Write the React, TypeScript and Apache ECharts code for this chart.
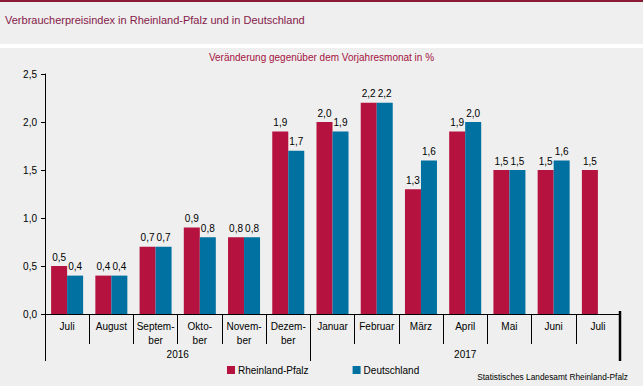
import React, { useEffect, useRef } from "react";
import * as echarts from "echarts";

const months = ["Juli", "August", "Septem-\nber", "Okto-\nber", "Novem-\nber", "Dezem-\nber", "Januar", "Februar", "März", "April", "Mai", "Juni", "Juli"];
const years = ["2016", "2017"];
const yearBounds = [0, 6, 13];
const yearCenters = [3, 9.5];
const rlp = [0.5, 0.4, 0.7, 0.9, 0.8, 1.9, 2.0, 2.2, 1.3, 1.9, 1.5, 1.5, 1.5];
const de: (number | null)[] = [0.4, 0.4, 0.7, 0.8, 0.8, 1.7, 1.9, 2.2, 1.6, 2.0, 1.5, 1.6, null];

const RED = "#B5123F";
const BLUE = "#0071A1";
const FONT = "'Liberation Sans', Arial, sans-serif";
const fmt = (v: number) => v.toFixed(1).replace(".", ",");

export default function App() {
  const ref = useRef<HTMLDivElement>(null);
  useEffect(() => {
    document.body.style.margin = "0";
    const chart = echarts.init(ref.current!, null, { renderer: "svg" });
    const graphics: any[] = [
      { type: "rect", left: 0, top: 0, shape: { width: 643, height: 2 }, style: { fill: "#8A1A35" } },
      { type: "rect", left: 0, top: 44, shape: { width: 643, height: 4 }, style: { fill: "#FFFFFF" } },
      { type: "text", left: 5, top: 14, style: { text: "Verbraucherpreisindex in Rheinland-Pfalz und in Deutschland", fontSize: 11, fill: "#86204A", fontFamily: FONT } },
      { type: "text", left: "center", top: 52, style: { text: "Veränderung gegenüber dem Vorjahresmonat in %", fontSize: 10, fill: "#A5123F", fontFamily: FONT } },
      { type: "text", right: 15, top: 373, style: { text: "Statistisches Landesamt Rheinland-Pfalz", fontSize: 8.3, fill: "#000", fontFamily: FONT } },
    ];
    const option: any = {
      animation: false,
      backgroundColor: "#EEEFEE",
      textStyle: { fontFamily: FONT },
      grid: { left: 45, right: 23, top: 74, bottom: 72, containLabel: false },
      graphic: graphics,
      legend: {
        left: 227,
        top: 365,
        padding: 0,
        itemWidth: 8,
        itemHeight: 8,
        itemGap: 44,
        icon: "rect",
        textStyle: { fontSize: 10, color: "#000", fontFamily: FONT, padding: [0, 0, 0, -2] },
        data: ["Rheinland-Pfalz", "Deutschland"],
      },
      xAxis: [
        {
          type: "category",
          data: months,
          axisLine: { lineStyle: { color: "#000", width: 1 } },
          axisTick: { show: true, interval: 0, length: 30, lineStyle: { color: "#000" } },
          axisLabel: { interval: 0, margin: 5, fontSize: 10, lineHeight: 14, color: "#000", fontFamily: FONT },
          splitLine: { show: false },
        },
        {
          type: "value",
          min: 0,
          max: 13,
          position: "bottom",
          axisLine: { show: false },
          axisTick: { show: true, length: 47, customValues: yearBounds, lineStyle: { color: "#000" } },
          axisLabel: {
            customValues: yearCenters,
            margin: 35,
            fontSize: 10,
            color: "#000",
            fontFamily: FONT,
            formatter: (v: number) => years[yearCenters.indexOf(v)] ?? "",
          },
          splitLine: { show: false },
        },
      ],
      yAxis: {
        type: "value",
        min: 0,
        max: 2.5,
        interval: 0.5,
        axisLine: { show: true, lineStyle: { color: "#000" } },
        axisTick: { show: true, length: 4, lineStyle: { color: "#000" } },
        axisLabel: { formatter: (v: number) => fmt(v), fontSize: 10, color: "#000", margin: 8, fontFamily: FONT },
        splitLine: { show: false },
      },
      series: [
        {
          name: "Rheinland-Pfalz",
          type: "bar",
          data: rlp,
          barWidth: 16,
          barGap: "0%",
          itemStyle: { color: RED },
          label: { show: true, position: "top", distance: 4, fontSize: 10, color: "#000", formatter: (p: any) => fmt(p.value) },
        },
        {
          name: "Deutschland",
          type: "bar",
          data: de,
          barWidth: 16,
          itemStyle: { color: BLUE },
          label: { show: true, position: "top", distance: 4, fontSize: 10, color: "#000", formatter: (p: any) => (p.value == null ? "" : fmt(p.value)) },
        },
      ],
    };
    chart.setOption(option);
    const xEnd = chart.convertToPixel({ xAxisIndex: 1 }, yearBounds[yearBounds.length - 1]) as number;
    const yZero = chart.convertToPixel({ yAxisIndex: 0 }, 0) as number;
    chart.setOption({
      graphic: [
        ...graphics,
        { type: "line", shape: { x1: xEnd, y1: yZero - 3, x2: xEnd, y2: yZero + 47 }, style: { stroke: "#000", lineWidth: 2.5 } },
      ],
    });
    return () => chart.dispose();
  }, []);
  return <div ref={ref} style={{ position: "absolute", left: 0, top: 0, width: 643, height: 386 }} />;
}
